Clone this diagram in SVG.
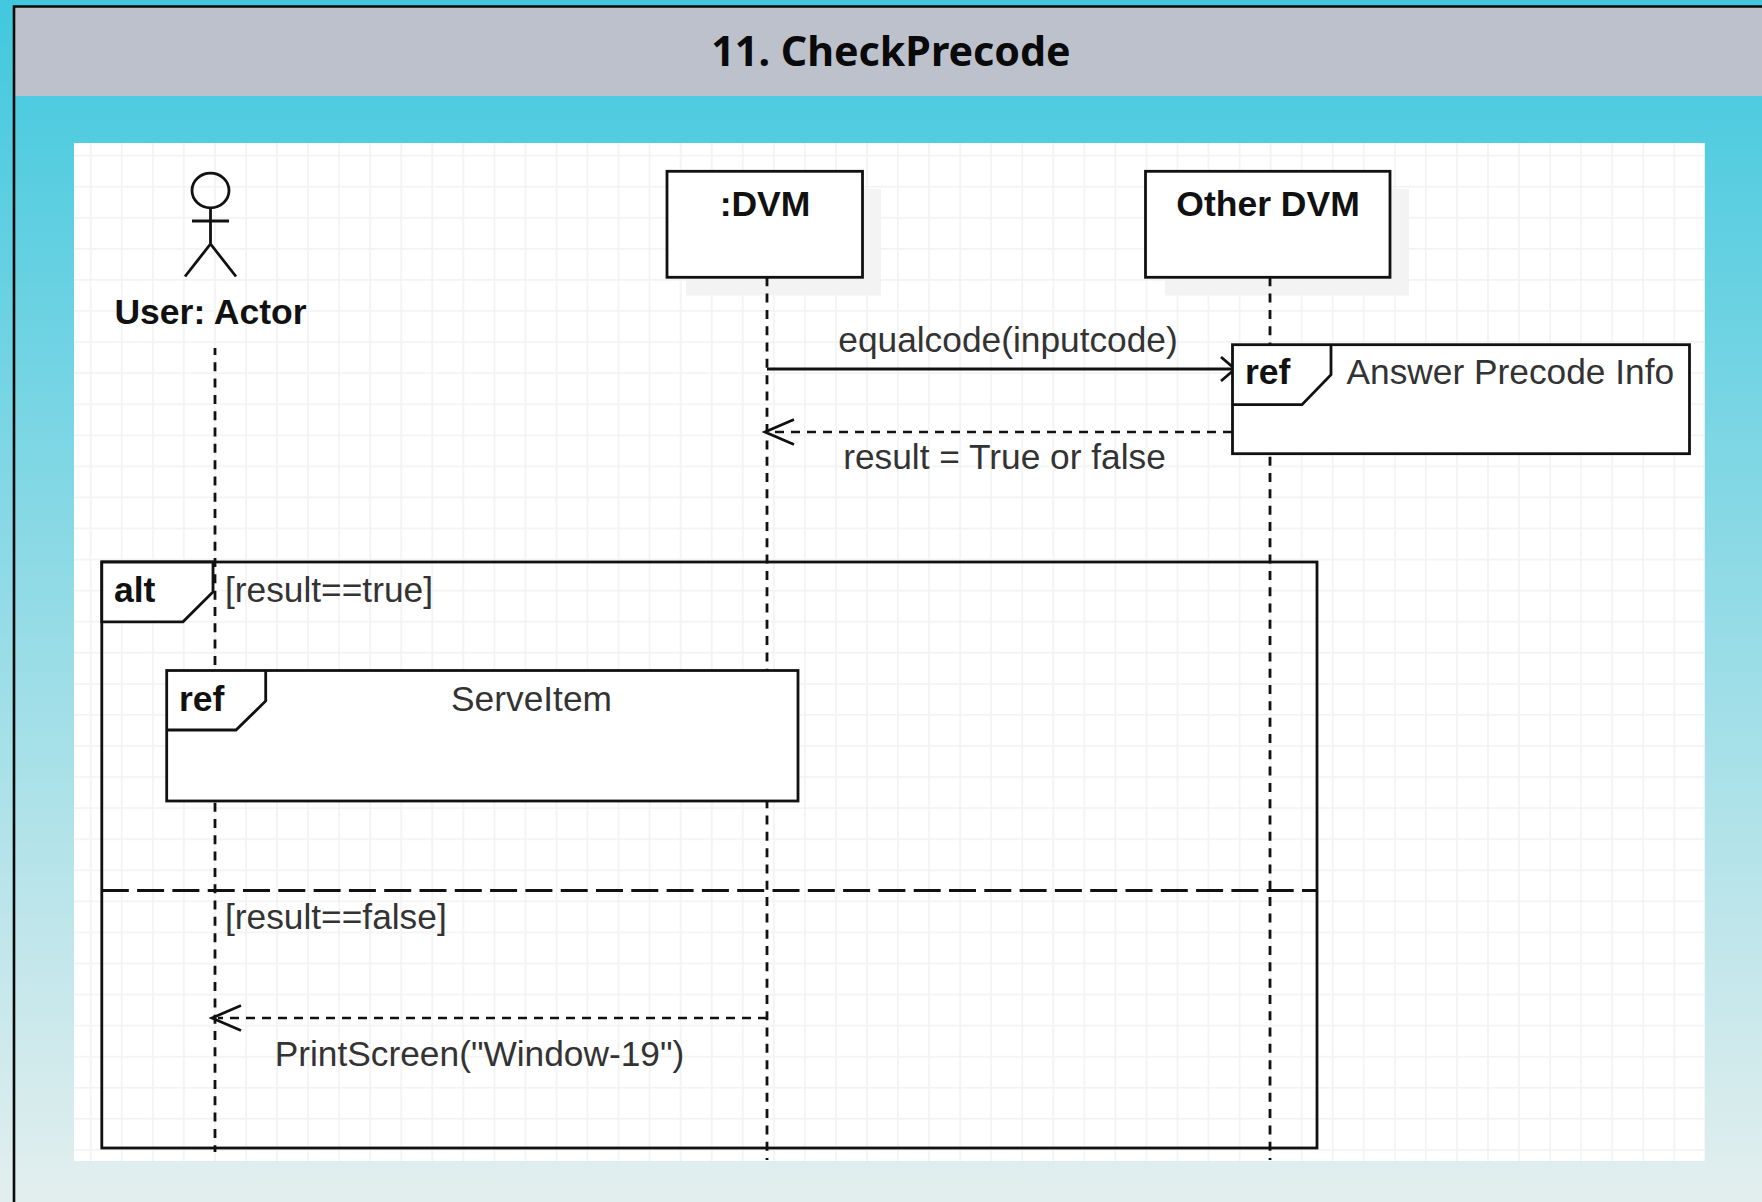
<svg xmlns="http://www.w3.org/2000/svg" width="1762" height="1202" viewBox="0 0 1762 1202">
<style>
.s{fill:none;stroke:#111;stroke-width:2.8}
.w{fill:#fff;stroke:#111;stroke-width:2.8}
.life{fill:none;stroke:#111;stroke-width:2.8;stroke-dasharray:9 7.31}
.ret{fill:none;stroke:#111;stroke-width:2.6;stroke-dasharray:9 7}
.t{font-family:"Liberation Sans",Arial,sans-serif;font-size:35.3px;fill:#333}
.b{font-family:"Liberation Sans",Arial,sans-serif;font-size:35.5px;font-weight:bold;fill:#111}
.sh{fill:#f3f3f3}
</style>
<defs>
<linearGradient id="bg" gradientUnits="userSpaceOnUse" x1="0" y1="0" x2="0" y2="1190">
<stop offset="0" stop-color="#41c8de"/><stop offset="1" stop-color="#e2eeee"/>
</linearGradient>
<pattern id="grid" patternUnits="userSpaceOnUse" x="75.2" y="140.2" width="31.05" height="31.07">
<path d="M15.5 0V31.07M0 15.5H31.05" fill="none" stroke="#f3f3f3" stroke-width="1.7"/>
</pattern>
</defs>
<rect width="1762" height="1202" fill="url(#bg)"/>
<rect x="74" y="143" width="1630.7" height="1018" fill="#fff"/>
<rect x="74" y="143" width="1630.7" height="1018" fill="url(#grid)"/>
<g id="title">
<rect x="15" y="7" width="1747" height="89" fill="#bcc1cc"/>
<path d="M1762 6.500H14V1202" fill="none" stroke="#0a0a0a" stroke-width="2.600"/>
<text x="891" y="66" text-anchor="middle" font-family="'Noto Sans',sans-serif" font-size="41.200" font-weight="bold" fill="#0a0a0a">11. CheckPrecode</text>
</g>
<g id="node-dvm-shadow"><rect class="sh" x="686" y="189" width="195" height="106.500"/><rect class="sh" x="1165" y="189" width="244" height="106.500"/></g>
<g id="connectors">
<path class="life" d="M215 348V1152" stroke-dashoffset="2"/>
<path class="life" d="M767 277.300V1160"/>
<path class="life" d="M1270 277.300V1160"/>
<path class="s" d="M767 369H1232"/>
<path class="s" d="M1221 357L1235 369L1221 381" stroke-width="2.200"/>
<path class="ret" d="M1232 432H770"/>
<path class="s" d="M794 419.500L765 432L794 444.500"/>
<path class="ret" d="M767 1018H218"/>
<path class="s" d="M241 1005.500L212 1018L241 1030.500"/>
</g>
<g id="actor-user">
<ellipse class="s" cx="210.500" cy="190.500" rx="18.500" ry="17.300"/>
<path class="s" d="M210.500 207.500V244M192 221H229M185 276.500L210.500 244L236 276.500"/>
<text class="b" x="210.500" y="324" text-anchor="middle">User: Actor</text>
</g>
<g id="node-dvm">
<rect class="w" x="667" y="171.300" width="195.500" height="106"/>
<text class="b" x="765" y="216" text-anchor="middle">:DVM</text>
</g>
<g id="node-other-dvm">
<rect class="w" x="1145.500" y="171.300" width="244.500" height="106"/>
<text class="b" x="1268" y="216" text-anchor="middle">Other DVM</text>
</g>
<g id="ref-answer">
<rect class="w" x="1232.500" y="344.700" width="457" height="109"/>
<path class="s" d="M1232.500 404.700H1302L1331 374.700V344.700"/>
<text class="b" x="1245" y="384">ref</text>
<text class="t" x="1346.500" y="384">Answer Precode Info</text>
</g>
<g id="alt-frame">
<rect class="s" x="101.800" y="562" width="1215.200" height="586"/>
<path class="w" d="M101.800 562H213V592L183 621.800H101.800Z"/>
<path class="s" d="M101.800 890.500H1317" stroke-dasharray="27 8.300"/>
<text class="b" x="114" y="602">alt</text>
<text class="t" x="225" y="601.500">[result==true]</text>
<text class="t" x="225" y="928.500">[result==false]</text>
</g>
<g id="ref-serve">
<rect class="w" x="166.700" y="670.500" width="631.300" height="130.500"/>
<path class="s" d="M166.700 730H236L265.700 701V670.500"/>
<text class="b" x="179" y="711">ref</text>
<text class="t" x="531.500" y="711" text-anchor="middle">ServeItem</text>
</g>
<g id="labels">
<text class="t" x="1008" y="352" text-anchor="middle">equalcode(inputcode)</text>
<text class="t" x="1004.500" y="468.500" text-anchor="middle">result = True or false</text>
<text class="t" x="479.500" y="1065.500" text-anchor="middle">PrintScreen("Window-19")</text>
</g>
</svg>
